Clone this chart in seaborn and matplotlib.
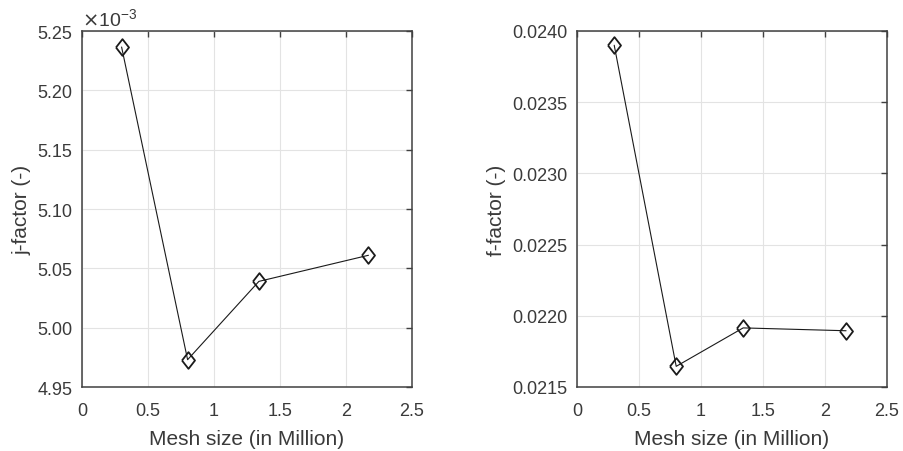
import matplotlib
matplotlib.use("Agg")
import matplotlib.pyplot as plt
import seaborn as sns
import pandas as pd
from matplotlib.ticker import FuncFormatter, MultipleLocator

mesh_size = [0.30, 0.80, 1.34, 2.17]
j_factor = [5.2365e-3, 4.973e-3, 5.039e-3, 5.061e-3]
f_factor = [0.02390, 0.021645, 0.021915, 0.021895]

x_label = "Mesh size (in Million)"
j_label = "j-factor (-)"
f_label = "f-factor (-)"

sns.set_theme(style="white")
plt.rcParams['font.family'] = ['Liberation Sans', 'DejaVu Sans']

fig = plt.figure(figsize=(9.04, 4.52), dpi=100)
ax1 = fig.add_axes([82/904, 64/452, 330/904, 356/452])
ax2 = fig.add_axes([577/904, 64/452, 310/904, 356/452])

diamond = [(-0.78, 0), (0, 1), (0.78, 0), (0, -1), (-0.78, 0)]
txtc = '#3a3a3a'

df = pd.DataFrame({"mesh": mesh_size, "j": j_factor, "f": f_factor})

for ax, col, ylab in [(ax1, "j", j_label), (ax2, "f", f_label)]:
    sns.lineplot(data=df, x="mesh", y=col, ax=ax, color='#1a1a1a', linewidth=0.8,
                 marker=diamond, markersize=12, markerfacecolor='none',
                 markeredgecolor='#1a1a1a', markeredgewidth=1.3, zorder=3)
    ax.set_xlim(0, 2.5)
    ax.xaxis.set_major_locator(MultipleLocator(0.5))
    ax.grid(True, color='#e3e3e3', linewidth=0.8)
    ax.set_axisbelow(True)
    for s in ax.spines.values():
        s.set_color('#404040')
        s.set_linewidth(1.1)
    ax.tick_params(direction='in', length=4, width=1, colors='#404040',
                   top=True, right=True, labelsize=13, labelcolor=txtc)
    ax.tick_params(axis='x', pad=11)
    ax.tick_params(axis='y', pad=7)
    ax.set_xlabel(x_label, fontsize=15, color=txtc, labelpad=7)
    ax.set_ylabel(ylab, fontsize=15, color=txtc, labelpad=4)
    ax.xaxis.set_major_formatter(FuncFormatter(lambda v, p: f"{v:g}"))

ax1.set_ylim(4.95e-3, 5.25e-3)
ax1.yaxis.set_major_locator(MultipleLocator(0.05e-3))
ax1.yaxis.set_major_formatter(FuncFormatter(lambda v, p: f"{v*1e3:.2f}"))
ax1.text(0.0, 1.005, r"$\times\mathregular{10^{-3}}$", transform=ax1.transAxes,
         fontsize=14, color=txtc, ha='left', va='bottom')

ax2.set_ylim(0.0215, 0.0240)
ax2.yaxis.set_major_locator(MultipleLocator(0.0005))
ax2.yaxis.set_major_formatter(FuncFormatter(lambda v, p: f"{v:.4f}"))

fig.savefig("out.png", dpi=100)
